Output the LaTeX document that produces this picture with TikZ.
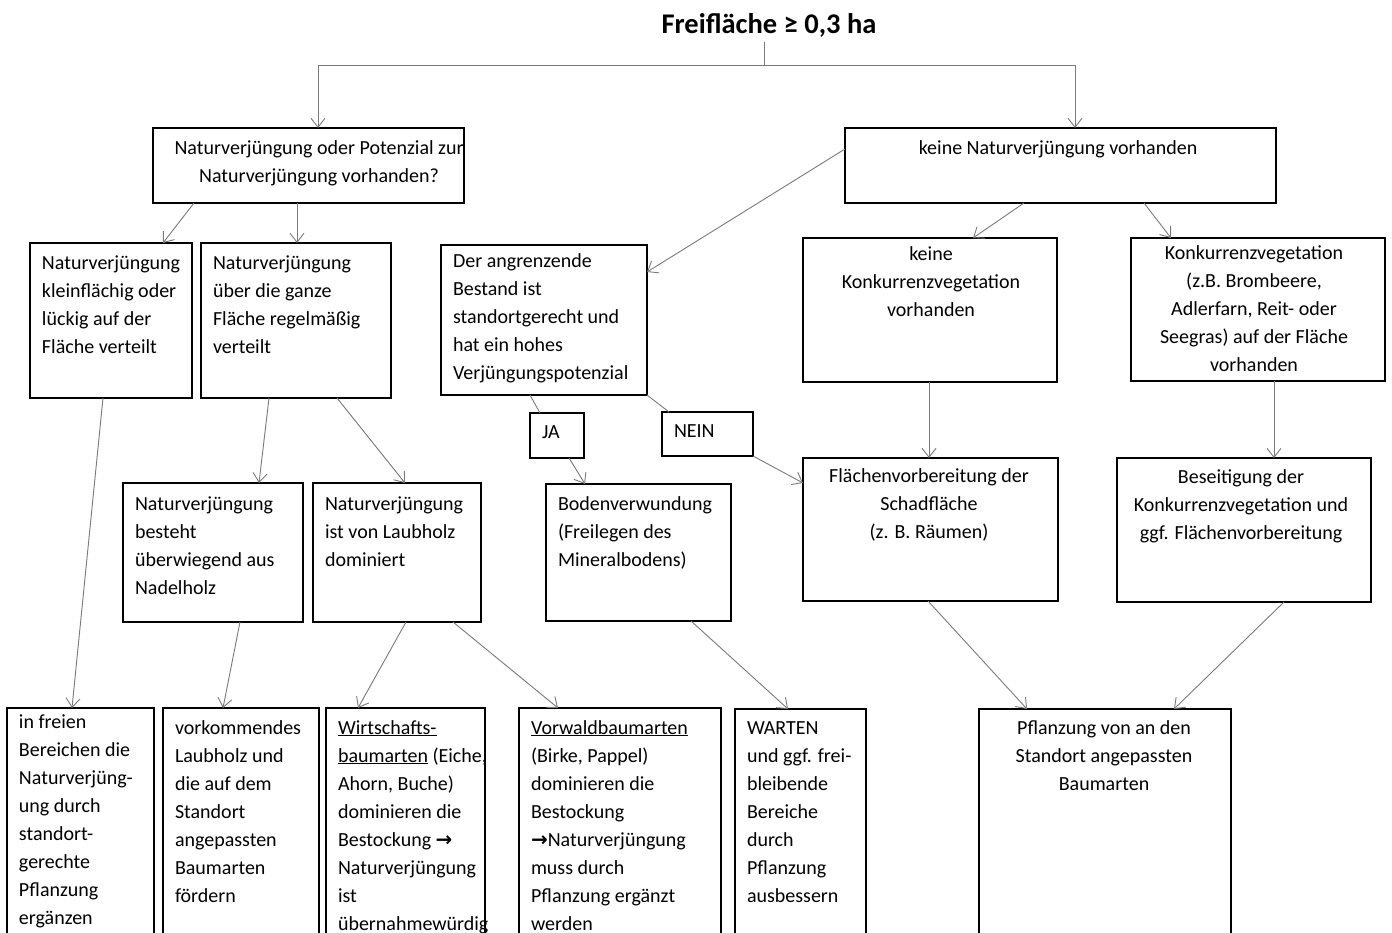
\documentclass[tikz,border=0pt]{standalone}
\usepackage{fontspec}
\setmainfont{Carlito}
\newfontfamily\arrowfont{DejaVu Sans}
\usetikzlibrary{arrows.meta}
\definecolor{lc}{HTML}{7A7A7A}
\newcommand\lbx[4]{\begin{minipage}[t][#2pt][t]{#1pt}\raggedright\leftskip=12pt\rightskip=-40pt plus 1fil\relax\rule{0pt}{#3pt}#4\end{minipage}}
\newcommand\cbx[5]{\begin{minipage}[t][#2pt][t]{#1pt}\centering\leftskip=#4pt plus 1fil\relax\rule{0pt}{#3pt}#5\end{minipage}}
\newcommand\rarr{{\arrowfont\bfseries →}}
\tikzset{
  bx/.style={draw=black, line width=1.1pt, inner sep=0pt, outer sep=0pt, anchor=north west, font=\fontsize{20}{28}\selectfont},
  ln/.style={draw=lc, line width=0.9pt},
  arr/.style={ln, -{Straight Barb[length=9pt,width=14pt]}}
}
\begin{document}
\begin{tikzpicture}[x=1pt,y=-1pt]
\useasboundingbox (0,0) rectangle (1392,933);
\clip (0,0) rectangle (1392,933);
\fill[white] (0,0) rectangle (1392,933);
\node[font=\fontsize{28.5}{34}\selectfont\bfseries, anchor=base, inner sep=0pt] (T) at (769,34) {Freifläche ≥ 0,3 ha};
\coordinate (split) at (764,65);
\node[bx] (A) at (153,128) {\cbx{311}{75}{27}{21}{Naturverjüngung oder Potenzial zur\\Naturverjüngung vorhanden?}};
\node[bx] (B) at (845,128) {\cbx{431}{75}{27}{-5}{keine Naturverjüngung vorhanden}};
\node[bx] (C) at (30,243) {\lbx{162}{155}{27}{Naturverjüngung\\kleinflächig oder\\lückig auf der\\Fläche verteilt}};
\node[bx] (D) at (201,243) {\lbx{190}{155}{27}{Naturverjüngung\\über die ganze\\Fläche regelmäßig\\verteilt}};
\node[bx] (E) at (441,245) {\lbx{206}{150}{23}{Der angrenzende\\Bestand ist\\standortgerecht und\\hat ein hohes\\Verjüngungspotenzial}};
\node[bx] (F) at (803,238) {\cbx{254}{144}{23}{2}{keine\\Konkurrenzvegetation\\vorhanden}};
\node[bx] (G) at (1131,238) {\cbx{254}{143}{22}{-8}{Konkurrenzvegetation\\(z.B. Brombeere,\\Adlerfarn, Reit- oder\\Seegras) auf der Fläche\\vorhanden}};
\node[bx] (JA) at (530,413) {\lbx{54}{45}{25}{JA}};
\node[bx] (NEIN) at (662,412) {\lbx{91}{44}{25}{NEIN}};
\node[bx] (H) at (123,483) {\lbx{180}{139}{27}{Naturverjüngung\\besteht\\überwiegend aus\\Nadelholz}};
\node[bx] (I) at (313,483) {\lbx{168}{139}{27}{Naturverjüngung\\ist von Laubholz\\dominiert}};
\node[bx] (J) at (546,484) {\lbx{185}{137}{26}{Bodenverwundung\\(Freilegen des\\Mineralbodens)}};
\node[bx] (K) at (803,458) {\cbx{255}{143}{24}{-3}{Flächenvorbereitung der\\Schadfläche\\(z. B. Räumen)}};
\node[bx] (L) at (1117,458) {\cbx{254}{144}{25}{-6}{Beseitigung der\\Konkurrenzvegetation und\\ggf. Flächenvorbereitung}};
\node[bx] (M) at (7,708) {\lbx{147}{237}{20}{in freien\\Bereichen die\\Naturverjüng-\\ung durch\\standort-\\gerechte\\Pflanzung\\ergänzen}};
\node[bx] (N) at (163,708) {\lbx{156}{237}{26}{vorkommendes\\Laubholz und\\die auf dem\\Standort\\angepassten\\Baumarten\\fördern}};
\node[bx] (O) at (326,708) {\lbx{159}{237}{26}{\underline{Wirtschafts-}\\\underline{baumarten} (Eiche,\\Ahorn, Buche)\\dominieren die\\Bestockung \rarr\\Naturverjüngung\\ist\\übernahmewürdig}};
\node[bx] (P) at (519,708) {\lbx{202}{237}{26}{\underline{Vorwaldbaumarten}\\(Birke, Pappel)\\dominieren die\\Bestockung\\\rarr Naturverjüngung\\muss durch\\Pflanzung ergänzt\\werden}};
\node[bx] (Q) at (735,709) {\lbx{131}{236}{25}{WARTEN\\und ggf. frei-\\bleibende\\Bereiche\\durch\\Pflanzung\\ausbessern}};
\node[bx] (R) at (979,709) {\cbx{252}{236}{25}{-2}{Pflanzung von an den\\Standort angepassten\\Baumarten}};
\draw[ln] ([xshift=-5pt,yshift=-8pt]T.base) -- (split);
\draw[arr] (split) -| ([xshift=165pt]A.north west);
\draw[arr] (split) -| ([xshift=230pt]B.north west);
\draw[arr] ([xshift=41pt]A.south west) -- ([xshift=133pt]C.north west);
\draw[arr] ([xshift=144pt]A.south west) -- ([xshift=96pt]D.north west);
\draw[arr] ([yshift=-21pt]B.north west) -- ([yshift=-27pt]E.north east);
\draw[arr] ([xshift=179pt]B.south west) -- ([xshift=170pt]F.north west);
\draw[arr] ([xshift=299pt]B.south west) -- ([xshift=40pt]G.north west);
\draw[arr] ([xshift=73pt]C.south west) -- ([xshift=65pt]M.north west);
\draw[arr] ([xshift=68pt]D.south west) -- ([xshift=136pt]H.north west);
\draw[arr] ([xshift=136pt]D.south west) -- ([xshift=92pt]I.north west);
\draw[ln] ([xshift=89pt]E.south west) -- ([xshift=10pt]JA.north west);
\draw[arr] ([xshift=39pt]JA.south west) -- ([xshift=39pt]J.north west);
\draw[ln] (E.south east) -- ([xshift=7pt]NEIN.north west);
\draw[arr] (NEIN.south east) -- ([yshift=-25pt]K.north west);
\draw[arr] ([xshift=126pt]F.south west) -- ([xshift=126pt]K.north west);
\draw[arr] ([xshift=143pt]G.south west) -- ([xshift=157pt]L.north west);
\draw[arr] ([xshift=117pt]H.south west) -- ([xshift=60pt]N.north west);
\draw[arr] ([xshift=93pt]I.south west) -- ([xshift=32pt]O.north west);
\draw[arr] ([xshift=140pt]I.south west) -- ([xshift=39pt]P.north west);
\draw[arr] ([xshift=145pt]J.south west) -- ([xshift=53pt]Q.north west);
\draw[arr] ([xshift=125pt]K.south west) -- ([xshift=48pt]R.north west);
\draw[arr] ([xshift=167pt]L.south west) -- ([xshift=195pt]R.north west);
\end{tikzpicture}
\end{document}
